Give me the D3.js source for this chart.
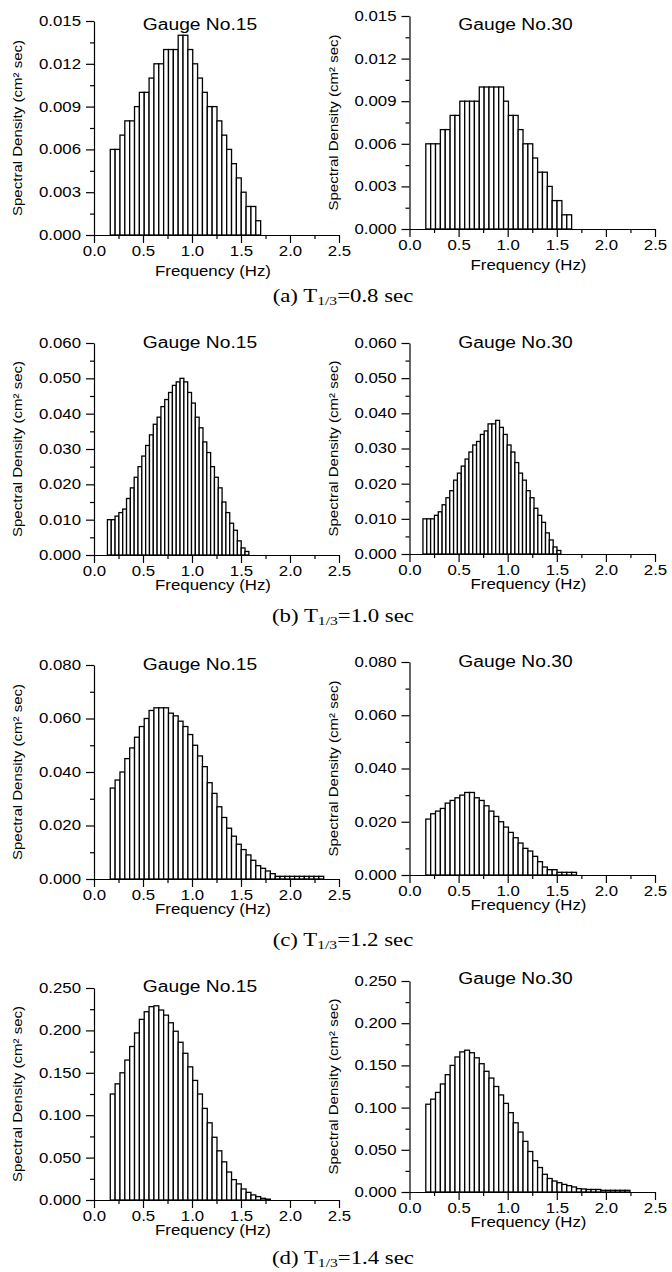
<!DOCTYPE html>
<html>
  <head>
    <script src="https://d3js.org/d3.v7.min.js"></script>
    <style>
      body { margin: 0; background: #fff; }
      text { font-family: "Liberation Sans", Arial, sans-serif; fill: #000; }
      .cap { font-family: "Liberation Serif", "Times New Roman", serif; }
    </style>
    <title>Spectra</title>
  </head>
  <body>
    <svg id="chart" width="672" height="1272"></svg>
    <script>
      // ---- data ----
      var captions = ["(a)", "(b)", "(c)", "(d)"];
      var periods = ["0.8", "1.0", "1.2", "1.4"];
      var gauges = ["Gauge No.15", "Gauge No.30"];
      var yMax = [0.015, 0.06, 0.08, 0.25];
      var yStep = [0.003, 0.01, 0.02, 0.05];
      var xTicks = [0, 0.5, 1.0, 1.5, 2.0, 2.5];
      var binStart = [0.166, 0.137, 0.166, 0.166];
      var binWidth = [0.0495, 0.039, 0.0495, 0.0495];

      var a15 = [0.006, 0.006, 0.007, 0.008, 0.008, 0.009, 0.010, 0.010, 0.011, 0.012, 0.012,
        0.013, 0.013, 0.013, 0.014, 0.014, 0.013, 0.012, 0.011, 0.010, 0.009, 0.009, 0.008,
        0.007, 0.006, 0.005, 0.004, 0.003, 0.002, 0.002, 0.001,
        0, 0, 0, 0, 0, 0, 0, 0, 0, 0, 0, 0, 0, 0, 0];
      var a30 = [0.006, 0.006, 0.006, 0.007, 0.007, 0.008, 0.008, 0.009, 0.009, 0.009, 0.009,
        0.010, 0.010, 0.010, 0.010, 0.010, 0.009, 0.008, 0.008, 0.007, 0.006, 0.006, 0.005,
        0.004, 0.004, 0.003, 0.002, 0.002, 0.001, 0.001,
        0, 0, 0, 0, 0, 0, 0, 0, 0, 0, 0, 0, 0, 0, 0, 0];
      var b15 = [0.010, 0.010, 0.011, 0.012, 0.013, 0.016, 0.019, 0.022, 0.025, 0.028, 0.031,
        0.034, 0.037, 0.039, 0.042, 0.044, 0.046, 0.048, 0.049, 0.050, 0.049, 0.046, 0.043,
        0.039, 0.036, 0.032, 0.029, 0.025, 0.022, 0.019, 0.015, 0.012, 0.009, 0.007, 0.004,
        0.002, 0.001, 0, 0, 0, 0, 0, 0, 0, 0, 0];
      var b30 = [0.010, 0.010, 0.010, 0.011, 0.012, 0.014, 0.016, 0.018, 0.021, 0.023, 0.025,
        0.027, 0.029, 0.031, 0.032, 0.034, 0.035, 0.037, 0.037, 0.038, 0.036, 0.034, 0.031,
        0.029, 0.026, 0.023, 0.021, 0.018, 0.016, 0.013, 0.011, 0.009, 0.006, 0.004, 0.002,
        0.001, 0, 0, 0, 0, 0, 0, 0, 0, 0, 0];
      var c15 = [0.034, 0.037, 0.040, 0.045, 0.049, 0.053, 0.057, 0.060, 0.063, 0.064, 0.064,
        0.064, 0.062, 0.061, 0.059, 0.057, 0.054, 0.050, 0.046, 0.042, 0.036, 0.032, 0.027,
        0.023, 0.019, 0.016, 0.013, 0.011, 0.009, 0.007, 0.005, 0.004, 0.003, 0.002, 0.001,
        0.001, 0.001, 0.001, 0.001, 0.001, 0.001, 0.001, 0.001, 0.001];
      var c30 = [0.021, 0.023, 0.024, 0.025, 0.027, 0.028, 0.029, 0.030, 0.031, 0.031, 0.029,
        0.028, 0.026, 0.024, 0.022, 0.020, 0.018, 0.016, 0.014, 0.012, 0.010, 0.009, 0.007,
        0.005, 0.003, 0.002, 0.002, 0.001, 0.001, 0.001, 0.001,
        0, 0, 0, 0, 0, 0, 0, 0, 0, 0, 0, 0, 0, 0];
      var d15 = [0.125, 0.137, 0.150, 0.165, 0.181, 0.197, 0.213, 0.222, 0.228, 0.229, 0.224,
        0.218, 0.209, 0.199, 0.186, 0.173, 0.157, 0.141, 0.125, 0.108, 0.091, 0.074, 0.058,
        0.045, 0.033, 0.024, 0.019, 0.013, 0.009, 0.006, 0.004, 0.002, 0.001];
      var d30 = [0.104, 0.110, 0.118, 0.128, 0.139, 0.150, 0.160, 0.166, 0.168, 0.165, 0.159,
        0.152, 0.143, 0.135, 0.125, 0.115, 0.105, 0.094, 0.082, 0.071, 0.060, 0.048, 0.037,
        0.029, 0.021, 0.016, 0.013, 0.011, 0.009, 0.0075, 0.006, 0.004, 0.0036, 0.003, 0.003,
        0.003, 0.002, 0.002, 0.002, 0.002, 0.002, 0.002];

      var spectra = [[a15, a30], [b15, b30], [c15, c30], [d15, d30]];

      // ---- layout ----
      var svg = d3.select("#chart");
      svg.append("rect").attr("width", 672).attr("height", 1272).attr("fill", "#fff");

      var colX = [[94, 339], [409.5, 655]];
      var rowY = [
        [[21, 235], [16, 229]],
        [[343, 555], [343, 554]],
        [[665, 879], [662, 875]],
        [[988, 1200], [981, 1192]],
      ];
      var titleDy = [[9, 14], [5, 5], [5, 5], [4, 3]];
      var xLabelDy = [41, 35, 35, 35];
      var capDy = [67, 67, 67, 64];

      function widen(sel, k) {
        sel.each(function () {
          var w = this.getComputedTextLength();
          this.setAttribute("textLength", w * k);
          this.setAttribute("lengthAdjust", "spacingAndGlyphs");
        });
      }

      function panel(r, c) {
        var x0 = colX[c][0], x1 = colX[c][1];
        var top = rowY[r][c][0], bottom = rowY[r][c][1];
        var g = svg.append("g");

        var x = d3.scaleLinear().domain([0, 2.5]).range([x0, x1]);
        var y = d3.scaleLinear().domain([0, yMax[r]]).range([bottom, top]);

        // bars
        var vals = spectra[r][c];
        g.append("g")
          .selectAll("rect")
          .data(vals)
          .enter()
          .append("rect")
          .attr("x", function (d, i) { return x(binStart[r] + i * binWidth[r]); })
          .attr("width", x(binWidth[r]) - x(0))
          .attr("y", function (d) { return y(d); })
          .attr("height", function (d) { return y(0) - y(d); })
          .attr("fill", "#fff")
          .attr("stroke", "#000")
          .attr("stroke-width", 1.3);

        var yTicks = d3.range(0, yMax[r] + yStep[r] / 2, yStep[r]);
        var yMinor = d3.range(yStep[r] / 2, yMax[r], yStep[r]);
        var xMinor = [0.25, 0.75, 1.25, 1.75, 2.25];

        // minor ticks
        g.append("g")
          .attr("transform", "translate(" + x0 + ",0)")
          .call(d3.axisLeft(y).tickValues(yMinor).tickSize(4).tickFormat(""))
          .call(function (s) { s.select(".domain").remove(); });
        g.append("g")
          .attr("transform", "translate(0," + bottom + ")")
          .call(d3.axisBottom(x).tickValues(xMinor).tickSize(4).tickFormat(""))
          .call(function (s) { s.select(".domain").remove(); });

        // major axes
        var ya = g.append("g")
          .attr("transform", "translate(" + x0 + ",0)")
          .call(d3.axisLeft(y).tickValues(yTicks).tickSize(8).tickSizeOuter(0).tickPadding(5)
            .tickFormat(d3.format(".3f")));
        var xa = g.append("g")
          .attr("transform", "translate(0," + bottom + ")")
          .call(d3.axisBottom(x).tickValues(xTicks).tickSize(8).tickSizeOuter(0).tickPadding(3)
            .tickFormat(d3.format(".1f")));

        g.selectAll(".tick line, .domain").attr("stroke", "#000").attr("stroke-width", 1.2);
        g.selectAll(".tick text").attr("font-size", 14).attr("fill", "#000")
          .style("font-family", "'Liberation Sans', Arial, sans-serif");
        widen(ya.selectAll(".tick text"), 1.2);
        widen(xa.selectAll(".tick text"), 1.2);

        // title
        g.append("text")
          .attr("x", x0 + 106)
          .attr("y", top + titleDy[r][c])
          .attr("text-anchor", "middle")
          .attr("font-size", 16)
          .text(gauges[c])
          .call(widen, 1.2);

        // x label
        g.append("text")
          .attr("x", x0 + 119)
          .attr("y", bottom + xLabelDy[r])
          .attr("text-anchor", "middle")
          .attr("font-size", 14)
          .text("Frequency (Hz)")
          .call(widen, 1.2);

        // y label
        g.append("text")
          .attr("transform", "translate(" + (x0 - 72) + "," + (top + bottom) / 2 + ") rotate(-90)")
          .attr("text-anchor", "middle")
          .attr("font-size", 12)
          .attr("textLength", 176)
          .attr("lengthAdjust", "spacingAndGlyphs")
          .text("Spectral Density (cm\u00b2 sec)");
      }

      for (var r = 0; r < 4; r++) {
        panel(r, 0);
        panel(r, 1);

        var cap = svg.append("text")
          .attr("class", "cap")
          .attr("x", 343)
          .attr("y", rowY[r][0][1] + capDy[r])
          .attr("text-anchor", "middle")
          .attr("font-size", 19);
        cap.append("tspan").text(captions[r] + " T");
        cap.append("tspan").attr("font-size", 13).attr("dy", 3).text("1/3");
        cap.append("tspan").attr("dy", -3).text("=" + periods[r] + " sec");
        widen(cap, 1.2);
      }
    </script>
  </body>
</html>
